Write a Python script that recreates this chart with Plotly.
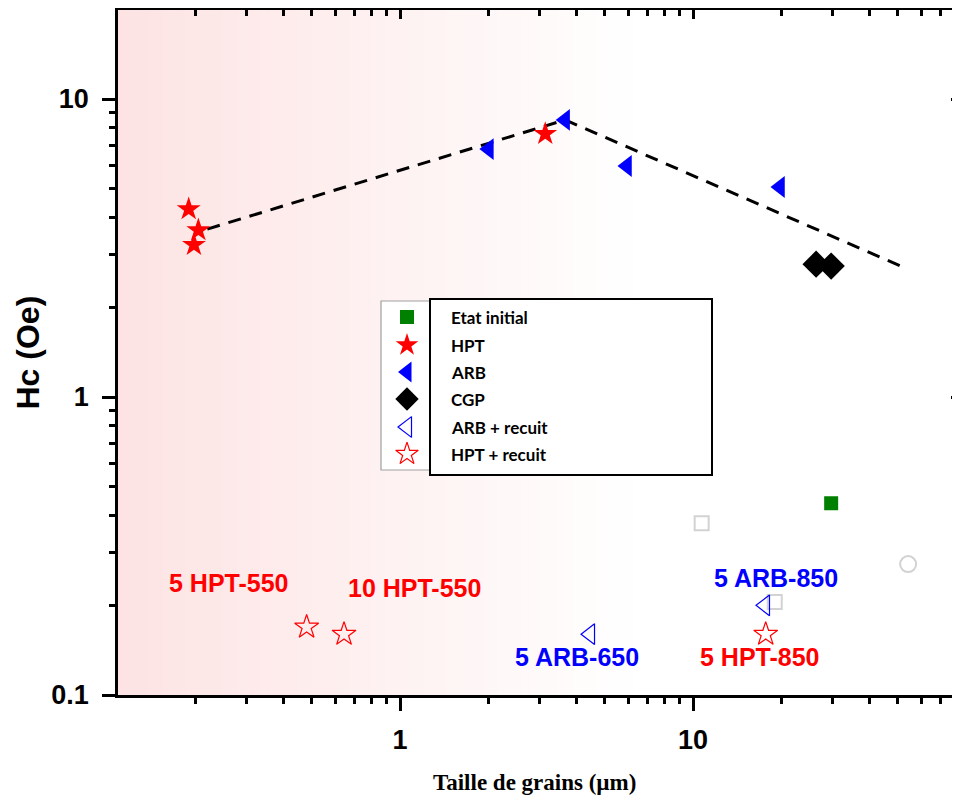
import numpy as np
import plotly.graph_objects as go

# ---------------- data ----------------
etat_x = [29.6];                    etat_y = [0.44]
hpt_x = [0.19, 0.205, 0.198, 3.13]; hpt_y = [4.27, 3.63, 3.24, 7.64]
arb_x = [2.01, 3.66, 5.95, 19.8];   arb_y = [6.79, 8.51, 5.96, 5.07]
cgp_x = [26.3, 29.6];               cgp_y = [2.79, 2.75]
arb_rec_x = [4.45, 17.6];           arb_rec_y = [0.160, 0.200]
hpt_rec_x = [0.48, 0.644, 17.7];    hpt_rec_y = [0.169, 0.160, 0.160]
grey_sq_x = [10.7, 19.0];           grey_sq_y = [0.377, 0.205]
grey_ci_x = [54.2];                 grey_ci_y = [0.275]
trend_x = [0.22, 3.66, 52.9];       trend_y = [3.66, 8.51, 2.71]
ref_level = 0.164

label_text = ["5 HPT-550", "10 HPT-550", "5 ARB-650", "5 HPT-850", "5 ARB-850"]
label_x = [0.261, 1.117, 4.02, 16.9, 19.2]
label_y = [0.238, 0.229, 0.134, 0.134, 0.247]
label_color = ["#ff0000", "#ff0000", "#0000ff", "#ff0000", "#0000ff"]

legend_names = ["Etat initial", "HPT", "ARB", "CGP", "ARB + recuit", "HPT + recuit"]

x_major = [1, 10]
x_major_text = ["1", "10"]
y_major = [0.1, 1, 10]
y_major_text = ["0.1", "1", "10"]

# ---------------- layout constants (page pixels) ----------------
OFF = 8                      # default body margin of the html page
PL, PT, PR, PB = 118, 10, 960, 695   # plot area in page pixels
W, H = 960 - OFF, 801 - OFF
ML, MT = PL - OFF, PT - OFF
MR = W - (PR - OFF)
MB = H - (PB - OFF)
pw, ph = PR - PL, PB - PT
xr = [-0.9625, 1.911]
yr = [-1.0, 1.2987]

minor_vals = [m * 10.0 ** e for e in (-1, 0, 1) for m in range(2, 10)]

RED, BLUE, GREEN = "#ff0000", "#0000ff", "#008000"
fig = go.Figure()

# grey reference markers
fig.add_trace(go.Scatter(x=grey_sq_x, y=grey_sq_y, mode="markers",
                         marker=dict(symbol="square-open", size=14, color="#d2d2d2", line=dict(width=2))))
fig.add_trace(go.Scatter(x=grey_ci_x, y=grey_ci_y, mode="markers",
                         marker=dict(symbol="circle-open", size=16, color="#d2d2d2", line=dict(width=2))))
# trend dashed line
fig.add_trace(go.Scatter(x=trend_x, y=trend_y, mode="lines",
                         line=dict(color="black", width=3, dash="13px,9px")))

series = [
    (etat_x, etat_y, "square", 14, GREEN, 0),
    (hpt_x, hpt_y, "star", 18, RED, 0),
    (arb_x, arb_y, "triangle-left", 19, BLUE, 0),
    (cgp_x, cgp_y, "diamond", 21, "black", 0),
    (arb_rec_x, arb_rec_y, "triangle-left-open", 18, BLUE, 1.2),
    (hpt_rec_x, hpt_rec_y, "star-open", 18, RED, 1.2),
]
for (sx, sy, sym, sz, col, lw), name in zip(series, legend_names):
    mk = dict(symbol=sym, size=sz, color=col, opacity=1)
    mk["line"] = dict(width=lw, color=col)
    fig.add_trace(go.Scatter(x=sx, y=sy, mode="markers", name=name, marker=mk))

# dummy trace for mirrored (top/right) axes
fig.add_trace(go.Scatter(x=[None], y=[None], xaxis="x2", yaxis="y2", mode="markers"))

# legend symbols on a pixel-like overlay axis
leg_rows = [317, 345, 372, 399, 427, 454]
leg_sym_x = 407
fig.add_trace(go.Scatter(
    x=[leg_sym_x] * len(series), y=leg_rows, xaxis="x3", yaxis="y3", mode="markers",
    marker=dict(symbol=[s[2] for s in series],
                size=[14, 17, 18, 18, 18, 17], opacity=1,
                color=[s[4] for s in series],
                line=dict(width=[0, 0, 0, 0, 1.2, 1.2], color=[s[4] for s in series]))))

# ---------------- shapes ----------------
shapes = []
x0p, x1p = PL, 640
n = 70
for i in range(n):
    a = x0p + (x1p - x0p) * i / n
    b = x0p + (x1p - x0p) * (i + 1) / n
    t = (i + 0.5) / n
    r = 253 + (255 - 253) * t
    g = 227 + (255 - 227) * t
    shapes.append(dict(type="rect", xref="paper", yref="paper",
                       x0=(a - PL) / pw, x1=(b - PL) / pw + 0.001, y0=0, y1=1,
                       fillcolor=f"rgb({r:.0f},{g:.0f},{g:.0f})", line=dict(width=0), layer="below"))
shapes.append(dict(type="line", xref="paper", yref="y", x0=0, x1=1,
                   y0=np.log10(ref_level), y1=np.log10(ref_level),
                   line=dict(color="#555555", width=1.2), layer="below"))


def px2paper(px, py):
    return (px - PL) / pw, (PB - py) / ph


ax0, ay0 = px2paper(381, 301); ax1, ay1 = px2paper(430, 470)
shapes.append(dict(type="rect", xref="paper", yref="paper", x0=ax0, x1=ax1, y0=ay1, y1=ay0,
                   fillcolor="white", line=dict(color="#a0a0a0", width=1.2), layer="below"))
bx0, by0 = px2paper(430, 299); bx1, by1 = px2paper(712, 475)
shapes.append(dict(type="rect", xref="paper", yref="paper", x0=bx0, x1=bx1, y0=by1, y1=by0,
                   fillcolor="white", line=dict(color="black", width=2), layer="below"))

# ---------------- annotations ----------------
ann = []
for txt, lx, ly, lc in zip(label_text, label_x, label_y, label_color):
    ann.append(dict(x=np.log10(lx), y=np.log10(ly), xref="x", yref="y", text=txt, showarrow=False,
                    xanchor="center", yanchor="middle",
                    font=dict(family="Liberation Sans, Arial", size=25, color=lc, weight="bold")))
for name, ry in zip(legend_names, leg_rows):
    ann.append(dict(x=449, y=ry, xref="x3", yref="y3", text=name, showarrow=False,
                    xanchor="left", yanchor="middle",
                    font=dict(family="Lato", size=17, color="black", weight="bold")))
yx, _ = px2paper(27, 0)
ann.append(dict(x=yx, y=0.5, xref="paper", yref="paper", text="Hc (Oe)", textangle=-90,
                showarrow=False, xanchor="center", yanchor="middle",
                font=dict(family="Liberation Sans, Arial", size=32, color="black", weight="bold")))
tx, ty = px2paper(534, 782)
ann.append(dict(x=tx, y=ty, xref="paper", yref="paper", text="Taille de grains (µm)",
                showarrow=False, xanchor="center", yanchor="middle",
                font=dict(family="Liberation Serif, Times New Roman", size=23, color="black", weight="bold")))

tickfont = dict(family="Liberation Sans, Arial", size=27, color="black", weight="bold")
common = dict(type="log", showgrid=False, zeroline=False, showline=True, linecolor="black", linewidth=2.5)

fig.update_layout(
    width=W, height=H, margin=dict(l=ML, r=MR, t=MT, b=MB, pad=0),
    paper_bgcolor="white", plot_bgcolor="white", showlegend=False,
    shapes=shapes, annotations=ann,
    xaxis=dict(**common, range=xr, tickmode="array", tickvals=x_major, ticktext=x_major_text,
               ticks="outside", ticklen=13, tickwidth=2.5, tickcolor="black", tickfont=tickfont,
               ticklabelstandoff=6,
               minor=dict(tickmode="array", tickvals=minor_vals, ticks="outside", ticklen=6,
                          tickwidth=2.5, tickcolor="black", showgrid=False)),
    yaxis=dict(**common, range=yr, tickmode="array", tickvals=y_major, ticktext=y_major_text,
               ticks="outside", ticklen=13, tickwidth=2.5, tickcolor="black", tickfont=tickfont,
               ticklabelstandoff=8,
               minor=dict(tickmode="array", tickvals=minor_vals, ticks="outside", ticklen=6,
                          tickwidth=2.5, tickcolor="black", showgrid=False)),
    xaxis2=dict(**common, range=xr, overlaying="x", side="top", anchor="y2",
                tickmode="array", tickvals=x_major, showticklabels=False,
                ticks="inside", ticklen=9, tickwidth=2.5, tickcolor="black",
                minor=dict(tickmode="array", tickvals=minor_vals, ticks="inside", ticklen=6,
                           tickwidth=2.5, tickcolor="black", showgrid=False)),
    yaxis2=dict(**common, range=yr, overlaying="y", side="right", anchor="x2",
                tickmode="array", tickvals=y_major, showticklabels=False,
                ticks="inside", ticklen=9, tickwidth=2.5, tickcolor="black",
                minor=dict(tickmode="array", tickvals=minor_vals, ticks="inside", ticklen=6,
                           tickwidth=2.5, tickcolor="#cccccc", showgrid=False)),
    xaxis3=dict(range=[PL, PR], overlaying="x", anchor="y3", visible=False, fixedrange=True),
    yaxis3=dict(range=[PB, PT], overlaying="y", anchor="x3", visible=False, fixedrange=True),
)

fig.write_html("out.html")
